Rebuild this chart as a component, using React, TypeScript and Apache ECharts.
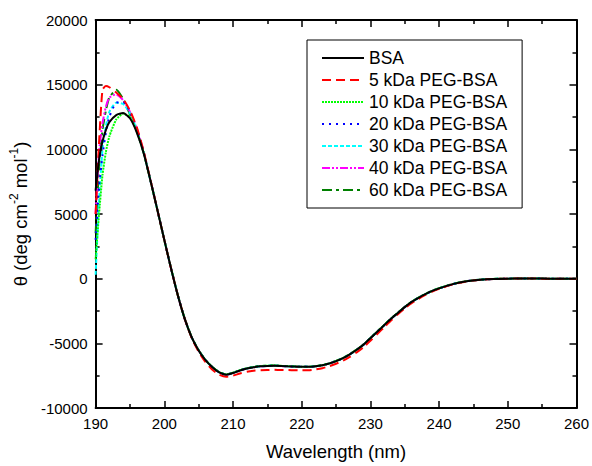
import React, { useEffect, useRef } from "react";
import * as echarts from "echarts";

const wavelengths = [
  190, 190.5, 191, 191.5, 192, 193, 194, 195, 196, 197, 198, 199, 200, 201, 202, 203, 204, 205, 206, 207,
  208, 209, 210, 211, 212, 213, 214, 215, 216, 217, 218, 219, 220, 221, 222, 223, 224, 225, 226, 227,
  228, 229, 230, 231, 232, 233, 234, 235, 236, 237, 238, 239, 240, 242, 244, 246, 248, 250, 252, 254,
  256, 258, 260,
];

const seriesNames = [
  "BSA",
  "5 kDa PEG-BSA",
  "10 kDa PEG-BSA",
  "20 kDa PEG-BSA",
  "30 kDa PEG-BSA",
  "40 kDa PEG-BSA",
  "60 kDa PEG-BSA",
];

const bsa = [
  6800, 9200, 10600, 11500, 12100, 12650, 12800, 12400, 11300, 9700, 7550, 5300, 3000, 750, -1350, -3150, -4550, -5550, -6300, -6850,
  -7250, -7420, -7300, -7100, -6950, -6850, -6780, -6750, -6740, -6750, -6780, -6800, -6820, -6820, -6780, -6700, -6560, -6380, -6150, -5850,
  -5500, -5100, -4600, -4100, -3600, -3100, -2650, -2200, -1800, -1480, -1200, -950, -750, -420, -200, -80, -20, 0, 10, 10,
  0, 0, 0,
];
const peg5 = [
  5000, 10500, 14600, 14900, 14800, 14400, 13900, 13000, 11700, 9850, 7600, 5300, 3000, 750, -1350, -3150, -4600, -5650, -6450, -7050,
  -7430, -7580, -7500, -7330, -7200, -7120, -7080, -7060, -7050, -7060, -7070, -7080, -7090, -7080, -7020, -6920, -6770, -6580, -6350, -6050,
  -5700, -5300, -4800, -4280, -3760, -3240, -2750, -2300, -1900, -1560, -1260, -1000, -790, -440, -210, -90, -25, 0, 10, 5,
  0, 0, 0,
];
const peg10 = [
  1500, 5000, 8000, 9800, 11000, 12300, 12750, 12500, 11400, 9750, 7550, 5300, 3000, 770, -1330, -3140, -4540, -5540, -6290, -6830,
  -7230, -7400, -7280, -7080, -6930, -6830, -6760, -6730, -6720, -6740, -6770, -6790, -6810, -6810, -6770, -6690, -6550, -6370, -6140, -5840,
  -5490, -5090, -4590, -4090, -3590, -3090, -2640, -2190, -1790, -1470, -1190, -940, -740, -410, -190, -75, -15, 0, 10, 10,
  0, 0, 0,
];
const peg20 = [
  3000, 7000, 9500, 11300, 12500, 13600, 13650, 12900, 11600, 9800, 7560, 5300, 3000, 760, -1340, -3150, -4550, -5550, -6300, -6840,
  -7240, -7410, -7290, -7090, -6940, -6840, -6770, -6740, -6730, -6750, -6780, -6800, -6820, -6820, -6780, -6700, -6560, -6380, -6150, -5850,
  -5500, -5100, -4600, -4100, -3600, -3100, -2650, -2200, -1800, -1480, -1200, -950, -750, -420, -200, -80, -20, 0, 10, 10,
  0, 0, 0,
];
const peg30 = [
  300, 6000, 10000, 11800, 12900, 13600, 13500, 12800, 11500, 9750, 7550, 5300, 3000, 760, -1340, -3150, -4550, -5550, -6300, -6840,
  -7240, -7410, -7290, -7090, -6940, -6840, -6770, -6740, -6730, -6750, -6780, -6800, -6820, -6820, -6780, -6700, -6560, -6380, -6150, -5850,
  -5500, -5100, -4600, -4100, -3600, -3100, -2650, -2200, -1800, -1480, -1200, -950, -750, -420, -200, -80, -20, 0, 10, 10,
  0, 0, 0,
];
const peg40 = [
  5000, 9800, 12000, 13300, 14000, 14250, 13800, 12900, 11600, 9800, 7580, 5300, 3000, 750, -1350, -3150, -4550, -5550, -6300, -6850,
  -7250, -7420, -7300, -7100, -6950, -6850, -6780, -6750, -6740, -6750, -6780, -6800, -6820, -6820, -6780, -6700, -6560, -6380, -6150, -5850,
  -5500, -5100, -4600, -4100, -3600, -3100, -2650, -2200, -1800, -1480, -1200, -950, -750, -420, -200, -80, -20, 0, 10, 10,
  0, 0, 0,
];
const peg60 = [
  3500, 8500, 11500, 13000, 14000, 14600, 13900, 12700, 11400, 9700, 7550, 5300, 3000, 760, -1340, -3140, -4540, -5540, -6290, -6830,
  -7230, -7400, -7280, -7080, -6930, -6830, -6760, -6730, -6720, -6740, -6770, -6790, -6810, -6810, -6770, -6690, -6550, -6370, -6140, -5840,
  -5490, -5090, -4590, -4090, -3590, -3090, -2640, -2190, -1790, -1470, -1190, -940, -740, -410, -190, -75, -15, 0, 10, 10,
  0, 0, 0,
];

const seriesValues = [bsa, peg5, peg10, peg20, peg30, peg40, peg60];
const colors = ["#000000", "#FF0000", "#00FF00", "#0000FF", "#00FFFF", "#FF00FF", "#008000"];
const dashes: any[] = [
  "solid",
  [9, 5],
  [2, 1],
  [2, 5],
  [4, 2],
  [8, 2, 2, 2, 2, 2],
  [10, 4, 3, 4],
];

const FONT = "Arial, 'Liberation Sans', sans-serif";

export default function App() {
  const ref = useRef<HTMLDivElement>(null);
  useEffect(() => {
    if (!ref.current) return;
    const chart = echarts.init(ref.current, undefined, { renderer: "svg" });
    const axisLine = { show: true, onZero: false, lineStyle: { color: "#000", width: 2 } };
    const xCommon = {
      type: "value" as const,
      min: 190,
      max: 260,
      interval: 10,
      axisLine,
      axisTick: { show: true, inside: true, length: 7, lineStyle: { color: "#000", width: 1.5 } },
      minorTick: { show: true, splitNumber: 2, length: 4, lineStyle: { color: "#000", width: 1.5 } },
      splitLine: { show: false },
    };
    const yCommon = {
      type: "value" as const,
      min: -10000,
      max: 20000,
      interval: 5000,
      axisLine,
      axisTick: { show: true, inside: true, length: 7, lineStyle: { color: "#000", width: 1.5 } },
      minorTick: { show: true, splitNumber: 2, length: 4, lineStyle: { color: "#000", width: 1.5 } },
      splitLine: { show: false },
    };
    chart.setOption({
      animation: false,
      backgroundColor: "#fff",
      grid: { left: 93, right: 12, top: 20, bottom: 50 },
      xAxis: [
        {
          ...xCommon,
          position: "bottom",
          axisLabel: { color: "#000", fontSize: 15, fontFamily: FONT, margin: 8, formatter: (v: number) => String(v) },
          name: "Wavelength (nm)",
          nameLocation: "middle",
          nameGap: 34,
          nameTextStyle: { color: "#000", fontSize: 18.5, fontFamily: FONT },
        },
        { ...xCommon, position: "top", axisLabel: { show: false } },
      ],
      yAxis: [
        {
          ...yCommon,
          position: "left",
          axisLabel: { color: "#000", fontSize: 15, fontFamily: FONT, margin: 8, formatter: (v: number) => String(v) },
          name: "{n|θ (deg cm}{s|-2}{n| mol}{s|-1}{n|)}",
          nameLocation: "middle",
          nameGap: 58,
          nameTextStyle: {
            color: "#000",
            fontFamily: FONT,
            rich: {
              n: { fontSize: 18.5, fontFamily: FONT, color: "#000", verticalAlign: "bottom", lineHeight: 22 },
              s: { fontSize: 12, fontFamily: FONT, color: "#000", verticalAlign: "top", lineHeight: 22 },
            },
          },
        },
        { ...yCommon, position: "right", axisLabel: { show: false } },
      ],
      legend: {
        show: true,
        orient: "vertical",
        left: 307,
        top: 40,
        padding: [9, 15, 9, 14],
        itemWidth: 42,
        itemHeight: 14,
        itemGap: 4,
        borderColor: "#000",
        borderWidth: 1,
        borderRadius: 0,
        backgroundColor: "#fff",
        itemStyle: { opacity: 0 },
        textStyle: { color: "#000", fontSize: 17.5, lineHeight: 16, fontFamily: FONT },
        data: seriesNames,
      },
      series: seriesNames.map((name, i) => ({
        name,
        type: "line",
        xAxisIndex: 0,
        yAxisIndex: 0,
        showSymbol: false,
        symbol: "none",
        smooth: 0.2,
        data: wavelengths.map((w, j) => [w, seriesValues[i][j]]),
        lineStyle: { color: colors[i], width: 2, type: dashes[i] },
        itemStyle: { color: colors[i] },
        z: 10 - i,
      })),
    });
    return () => chart.dispose();
  }, []);
  return (
    <div
      ref={ref}
      style={{ position: "fixed", left: 0, top: 0, width: 592, height: 466 }}
    />
  );
}
